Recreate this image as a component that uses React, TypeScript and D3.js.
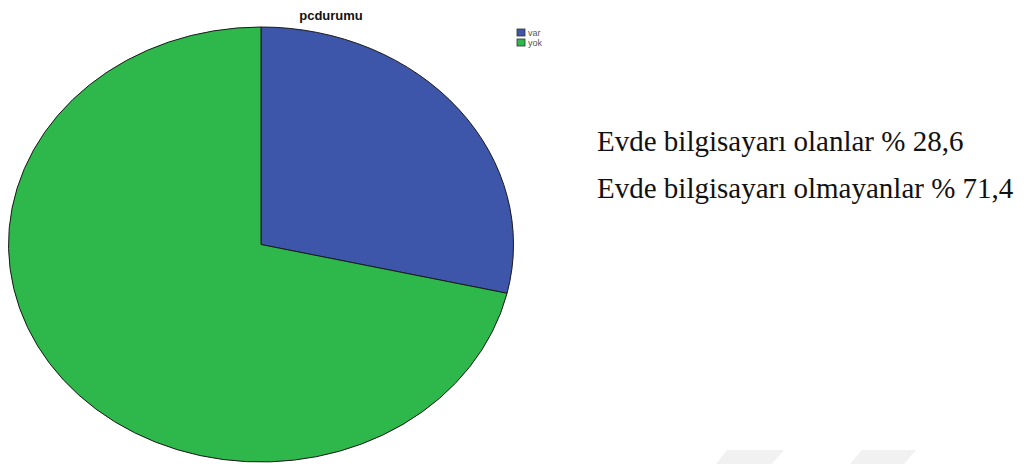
import React from "react";
import * as d3 from "d3";

const categories = ["var", "yok"];
const values = [28.6, 71.4];
const colors = ["#3d56aa", "#2eb74a"];
const title = "pcdurumu";
const notes = ["Evde bilgisayarı olanlar % 28,6", "Evde bilgisayarı olmayanlar % 71,4"];

export default function App() {
  const W = 1024, H = 464;
  const cx = 261, cy = 244.5, rx = 252.5, ry = 217.5;
  const pie = d3.pie<number>().sort(null).value((d) => d);
  const arcs = pie(values);
  const arc = d3.arc<d3.PieArcDatum<number>>().innerRadius(0).outerRadius(rx);
  return (
    <svg width={W} height={H} style={{ position: "absolute", left: 0, top: 0, background: "#fff" }}>
      <rect width={W} height={H} fill="#fff" />
      <g transform={`translate(${cx},${cy}) scale(1,${ry / rx})`}>
        {arcs.map((a, i) => (
          <path key={i} d={arc(a) || ""} fill={colors[i]} stroke="#1a1a1a" strokeWidth={1} vectorEffect="non-scaling-stroke" />
        ))}
      </g>
      <text x={331} y={20} textAnchor="middle" fontFamily="Liberation Sans, Arial, sans-serif" fontWeight="bold" fontSize={13} fill="#111">
        {title}
      </text>
      {categories.map((c, i) => (
        <g key={c} transform={`translate(517,${29 + i * 10})`}>
          <rect x={0} y={0} width={8} height={7} fill={colors[i]} stroke="#333" strokeWidth={0.8} />
          <text x={11} y={7} fontFamily="Liberation Sans, Arial, sans-serif" fontSize={9} fill="#555">{c}</text>
        </g>
      ))}
      {notes.map((t, i) => (
        <text key={i} x={597} y={151 + i * 47} fontFamily="'Liberation Serif', 'Times New Roman', serif" fontSize={29} fill="#111">
          {t}
        </text>
      ))}
      <polygon points="727,450 784,450 772,464 716,464" fill="#f1f1f1" />
      <polygon points="862,450 916,450 904,464 850,464" fill="#f1f1f1" />
    </svg>
  );
}
